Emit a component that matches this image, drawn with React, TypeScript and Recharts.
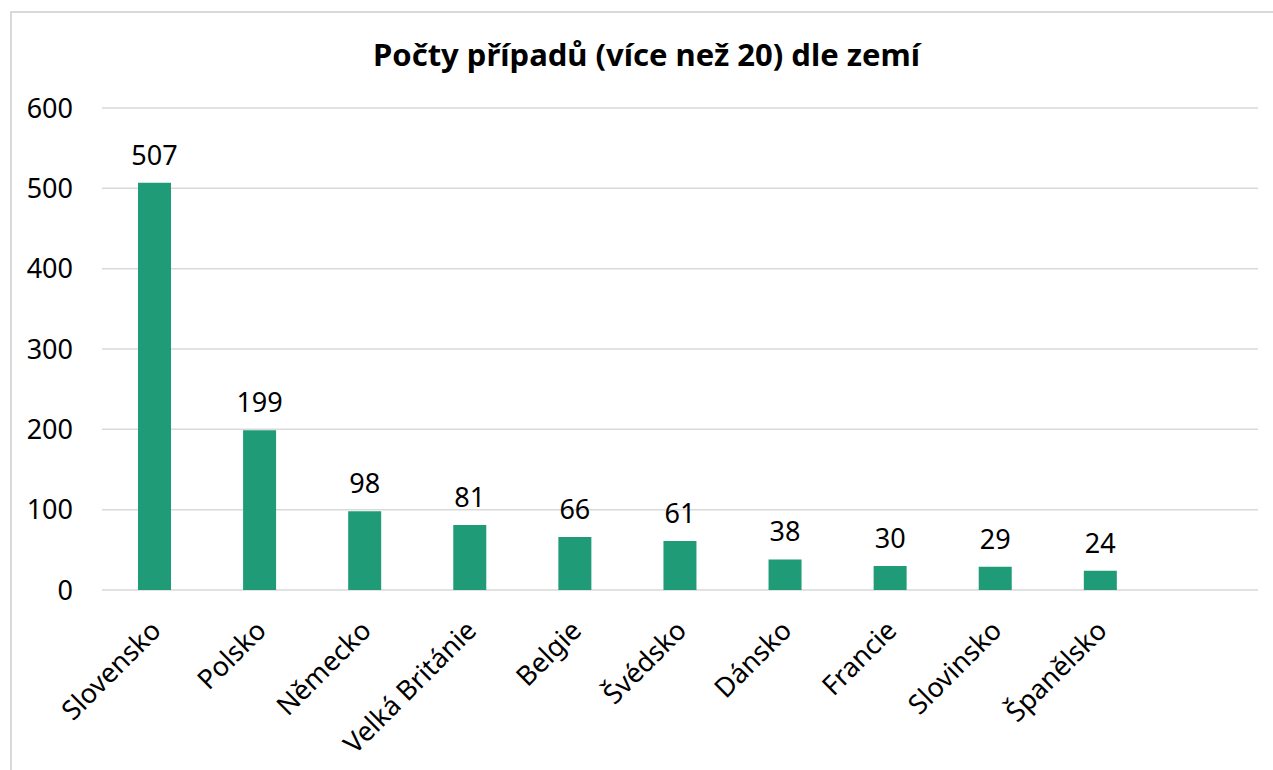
import { BarChart, Bar, XAxis, YAxis, CartesianGrid, LabelList } from "recharts";

const title = "Počty případů (více než 20) dle zemí";

// last slot is empty in the original sheet
const countries = [
  "Slovensko",
  "Polsko",
  "Německo",
  "Velká Británie",
  "Belgie",
  "Švédsko",
  "Dánsko",
  "Francie",
  "Slovinsko",
  "Španělsko",
  "",
];
const cases: (number | null)[] = [507, 199, 98, 81, 66, 61, 38, 30, 29, 24, null];
const yTicks = [0, 100, 200, 300, 400, 500, 600];

const data = countries.map((name, i) => ({ name, value: cases[i] }));

const FONT = "'Noto Sans', 'Open Sans', sans-serif";

const CountryTick = (props: any) => {
  const { x, y, payload } = props;
  if (!payload.value) return null;
  const tx = x + 3;
  const ty = y + 29;
  return (
    <text
      x={tx}
      y={ty}
      transform={`rotate(-45, ${tx}, ${ty})`}
      textAnchor="end"
      dominantBaseline="middle"
      fontFamily={FONT}
      fontSize={27}
      fill="#000"
    >
      {payload.value}
    </text>
  );
};

export default function App() {
  return (
    <div style={{ position: "absolute", left: 0, top: 0, width: 1273, height: 770, background: "#fff" }}>
      <div
        style={{
          position: "absolute",
          left: 10,
          top: 11,
          width: 1280,
          height: 780,
          borderLeft: "2px solid #d9d9d9",
          borderTop: "2px solid #d9d9d9",
          boxSizing: "border-box",
        }}
      />
      <div
        style={{
          position: "absolute",
          left: 10,
          top: 33,
          width: 1273,
          textAlign: "center",
          fontFamily: FONT,
          fontWeight: 700,
          fontSize: 31,
          color: "#000",
        }}
      >
        {title}
      </div>
      <div style={{ position: "absolute", left: 0, top: 0 }}>
        <BarChart
          width={1273}
          height={770}
          data={data}
          margin={{ top: 108, right: 15, left: 0, bottom: 0 }}
          barCategoryGap={0}
        >
          <CartesianGrid vertical={false} stroke="#d9d9d9" strokeWidth={1.5} />
          <XAxis
            dataKey="name"
            height={180}
            axisLine={false}
            tickLine={false}
            interval={0}
            tick={<CountryTick />}
          />
          <YAxis
            width={102}
            domain={[0, 600]}
            ticks={yTicks}
            axisLine={false}
            tickLine={false}
            tickSize={0}
            tickMargin={29}
            tick={{ fontFamily: FONT, fontSize: 27, fill: "#000" }}
          />
          <Bar dataKey="value" fill="#1f9b78" barSize={33} isAnimationActive={false}>
            <LabelList
              dataKey="value"
              position="top"
              offset={18}
              style={{ fontFamily: FONT, fontSize: 27, fill: "#000" }}
            />
          </Bar>
        </BarChart>
      </div>
    </div>
  );
}
